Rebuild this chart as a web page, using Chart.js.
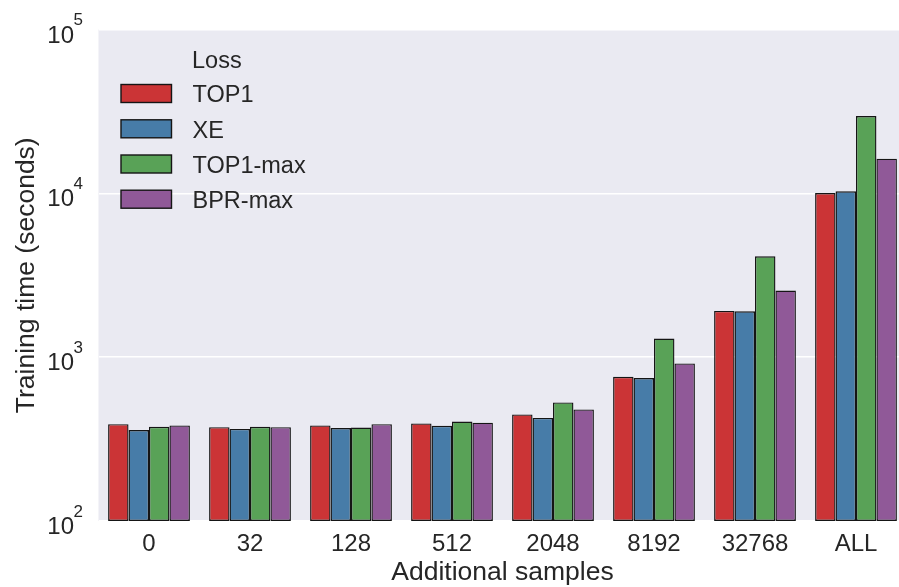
<!DOCTYPE html>
<html>
<head>
<meta charset="utf-8">
<script src="https://cdn.jsdelivr.net/npm/chart.js@4/dist/chart.umd.min.js"></script>
<style>
  html, body { margin: 0; padding: 0; background: #ffffff; overflow: hidden; }
  #wrap { width: 910px; height: 587px; }
</style>
</head>
<body>
<div id="wrap"><canvas id="c" width="910" height="587"></canvas></div>
<script>
// Number of additional negative samples per training run
const categories = ['0', '32', '128', '512', '2048', '8192', '32768', 'ALL'];

// Training time in seconds for each loss function
const top1    = [390, 374, 383, 394, 447, 759, 1916, 10050];
const xe      = [359, 365, 369, 381, 426, 745, 1907, 10290];
const top1max = [376, 376, 372, 405, 529, 1300, 4130, 29600];
const bprmax  = [383, 374, 390, 398, 480, 916, 2552, 16280];

const seriesNames = ['TOP1', 'XE', 'TOP1-max', 'BPR-max'];
const yTickValues = [100, 1000, 10000, 100000];

const colors = ['#CB3436', '#477CA8', '#59A257', '#905998'];
const FONT = '"Liberation Sans", Arial, "DejaVu Sans", sans-serif';
const TEXT = '#262626';

const seriesValues = [top1, xe, top1max, bprmax];

const datasets = seriesNames.map((name, i) => ({
  label: name,
  data: seriesValues[i],
  backgroundColor: colors[i],
  borderColor: '#151515',
  borderWidth: 1.4,
  borderSkipped: false,
  categoryPercentage: 0.81,
  barPercentage: 1.0
}));

// Plot background, tick labels with exponents, axis titles and legend
const decor = {
  id: 'decor',
  beforeDraw(chart) {
    const { ctx, chartArea: a } = chart;
    ctx.save();
    ctx.fillStyle = '#ffffff';
    ctx.fillRect(0, 0, chart.width, chart.height);
    ctx.fillStyle = '#EAEAF2';
    ctx.fillRect(a.left, a.top, a.right - a.left, a.bottom - a.top);
    ctx.restore();
  },
  afterDraw(chart) {
    const { ctx } = chart;
    const xs = chart.scales.x, ys = chart.scales.y;
    ctx.save();
    ctx.fillStyle = TEXT;

    // category labels
    ctx.font = '24px ' + FONT;
    ctx.textAlign = 'center';
    ctx.textBaseline = 'alphabetic';
    categories.forEach((lab, i) => {
      ctx.fillText(lab, xs.getPixelForValue(i), 551);
    });

    // y tick labels as 10^n
    yTickValues.forEach(v => {
      const y = ys.getPixelForValue(v);
      const exp = String(Math.round(Math.log10(v)));
      ctx.font = '17px ' + FONT;
      ctx.textAlign = 'left';
      ctx.fillText(exp, 73.5, y - 4.3);
      ctx.font = '24px ' + FONT;
      ctx.textAlign = 'right';
      ctx.fillText('10', 74, y + 13);
    });

    // axis titles
    ctx.font = '26.5px ' + FONT;
    ctx.textAlign = 'center';
    ctx.fillText('Additional samples', (chart.chartArea.left + chart.chartArea.right) / 2, 580);
    ctx.save();
    ctx.translate(34, (chart.chartArea.top + chart.chartArea.bottom) / 2);
    ctx.rotate(-Math.PI / 2);
    ctx.fillText('Training time (seconds)', 0, 0);
    ctx.restore();

    // legend
    ctx.font = '23.5px ' + FONT;
    ctx.textAlign = 'left';
    ctx.fillText('Loss', 192, 68.3);
    const rows = [93.5, 128.8, 164, 199.2];
    chart.data.datasets.forEach((ds, i) => {
      const cy = rows[i];
      ctx.fillStyle = ds.backgroundColor;
      ctx.fillRect(121, cy - 9, 50.5, 18);
      ctx.strokeStyle = '#151515';
      ctx.lineWidth = 1.4;
      ctx.strokeRect(121, cy - 9, 50.5, 18);
      ctx.fillStyle = TEXT;
      ctx.fillText(ds.label, 192.5, cy + 8.8);
    });
    ctx.restore();
  }
};

new Chart(document.getElementById('c'), {
  type: 'bar',
  data: { labels: categories, datasets },
  options: {
    responsive: false,
    animation: false,
    devicePixelRatio: 1,
    layout: { padding: { top: 29.5, right: 3.5, left: 0, bottom: 0 } },
    plugins: { legend: { display: false }, tooltip: { enabled: false } },
    scales: {
      x: {
        type: 'category',
        offset: true,
        grid: { display: false },
        border: { display: false },
        ticks: { display: false },
        afterFit(s) { s.height = 66; }
      },
      y: {
        type: 'logarithmic',
        min: 100,
        max: 100000,
        grid: { color: '#ffffff', lineWidth: 1.4, drawTicks: false },
        border: { display: false },
        ticks: { display: false },
        afterBuildTicks(s) { s.ticks = yTickValues.map(v => ({ value: v })); },
        afterFit(s) { s.width = 98.5; }
      }
    }
  },
  plugins: [decor]
});
</script>
</body>
</html>
